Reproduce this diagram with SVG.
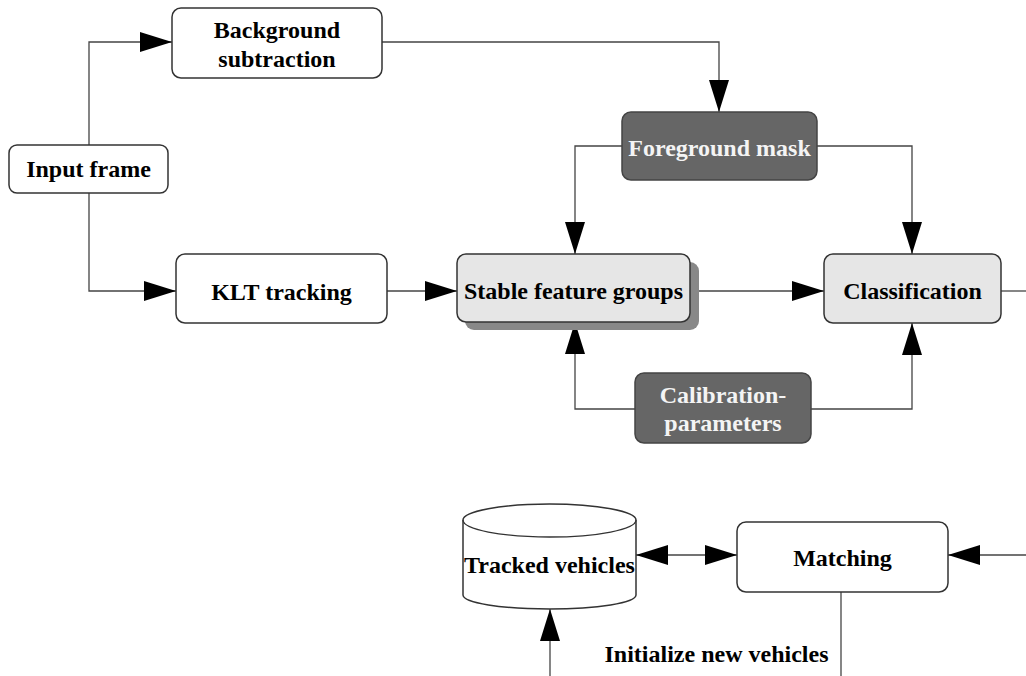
<svg xmlns="http://www.w3.org/2000/svg" width="1026" height="676" viewBox="0 0 1026 676">
<defs>
<marker id="ah" markerUnits="userSpaceOnUse" markerWidth="32" markerHeight="20" refX="32" refY="10" orient="auto-start-reverse">
<path d="M0,0 L32,10 L0,20 z" fill="#000"/>
</marker>
<style>
.box{fill:#fff;stroke:#333;stroke-width:1.5}
.lt{fill:#e6e6e6;stroke:#333;stroke-width:1.5}
.dk{fill:#666;stroke:#444;stroke-width:1.5}
.sh{fill:#888}
text{font-family:"Liberation Serif","Times New Roman",serif;font-weight:bold;font-size:24px;text-anchor:middle;fill:#000}
.wt{fill:#f4f4f4}
.c{fill:none;stroke:#444;stroke-width:1.3}
.a{marker-end:url(#ah)}
.aa{marker-start:url(#ah);marker-end:url(#ah)}
</style>
</defs>
<rect width="1026" height="676" fill="#fff"/>
<g id="connectors">
<path class="c a" d="M89,145 V42 H172"/>
<path class="c a" d="M89,193 V291 H176"/>
<path class="c a" d="M382,42 H719 V112"/>
<path class="c a" d="M622,146 H575 V254"/>
<path class="c a" d="M817,146 H912 V254"/>
<path class="c a" d="M387,291 H457"/>
<path class="c a" d="M690,291 H824"/>
<path class="c" d="M1001,291 H1026"/>
<path class="c a" d="M635,409 H575 V322"/>
<path class="c a" d="M811,409 H912 V323"/>
<path class="c aa" d="M636,555 H737"/>
<path class="c a" d="M1026,555 H948"/>
<path class="c" d="M841,592 V676"/>
<path class="c a" d="M550,676 V609"/>
</g>
<g id="input-frame">
<rect class="box" x="9" y="145" width="159" height="48" rx="8"/>
<text x="88.5" y="177">Input frame</text>
</g>
<g id="background-subtraction">
<rect class="box" x="172" y="8" width="210" height="70" rx="9"/>
<text x="277" y="38">Background</text>
<text x="277" y="67">subtraction</text>
</g>
<g id="klt-tracking">
<rect class="box" x="176" y="254" width="211" height="69" rx="9"/>
<text x="281.5" y="300">KLT tracking</text>
</g>
<g id="foreground-mask">
<rect class="dk" x="622" y="112" width="195" height="68" rx="9"/>
<text class="wt" x="719.5" y="156">Foreground mask</text>
</g>
<g id="stable-feature-groups">
<rect class="sh" x="465" y="262" width="234" height="68" rx="9"/>
<rect class="lt" x="457" y="254" width="233" height="68" rx="9"/>
<text x="573.5" y="299">Stable feature groups</text>
</g>
<g id="classification">
<rect class="lt" x="824" y="254" width="177" height="69" rx="9"/>
<text x="912.5" y="299">Classification</text>
</g>
<g id="calibration-parameters">
<rect class="dk" x="635" y="373" width="176" height="70" rx="9"/>
<text class="wt" x="723" y="403">Calibration-</text>
<text class="wt" x="723" y="431">parameters</text>
</g>
<g id="tracked-vehicles">
<path class="box" d="M463,520 V595 A86.5,14 0 0 0 636,595 V520 A86.5,16 0 0 0 463,520 Z"/>
<path class="c" style="stroke:#333" d="M463,520 A86.5,17 0 0 0 636,520"/>
<text x="549.5" y="573">Tracked vehicles</text>
</g>
<g id="matching">
<rect class="box" x="737" y="522" width="211" height="70" rx="9"/>
<text x="842.5" y="566">Matching</text>
</g>
<g id="initialize-label">
<text x="716.5" y="662">Initialize new vehicles</text>
</g>
</svg>
